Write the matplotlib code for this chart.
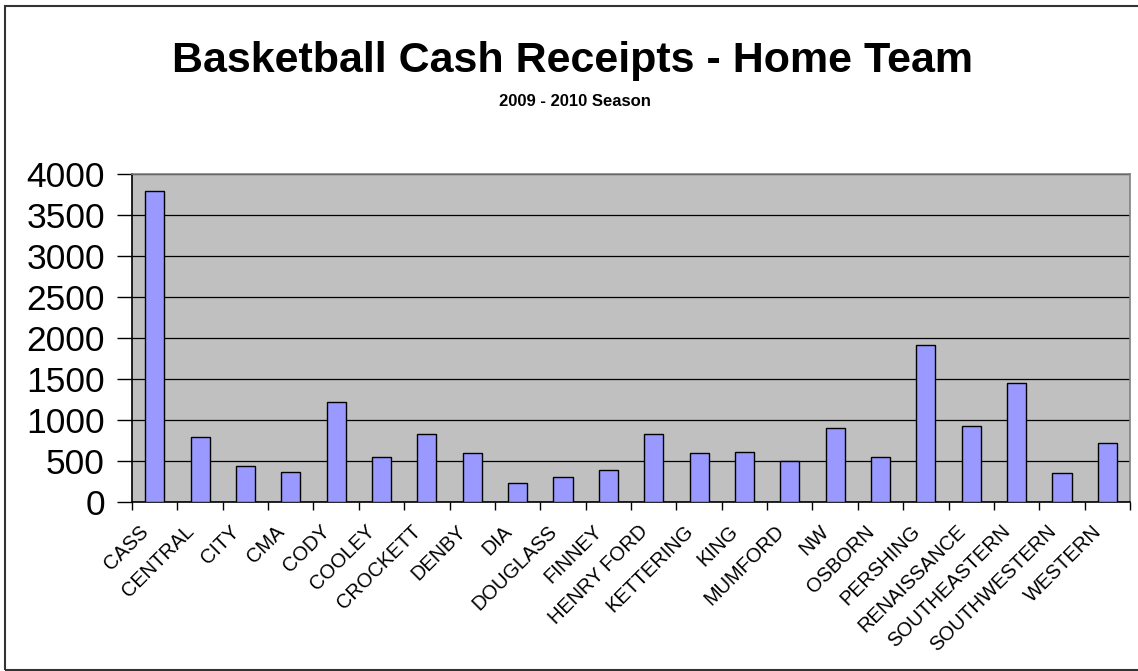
import numpy as np
import matplotlib.pyplot as plt
from matplotlib.patches import Rectangle
from matplotlib.transforms import ScaledTranslation

plt.rcParams['font.family'] = ['Liberation Sans', 'DejaVu Sans']

schools = ["CASS", "CENTRAL", "CITY", "CMA", "CODY", "COOLEY", "CROCKETT",
           "DENBY", "DIA", "DOUGLASS", "FINNEY", "HENRY FORD", "KETTERING",
           "KING", "MUMFORD", "NW", "OSBORN", "PERSHING", "RENAISSANCE",
           "SOUTHEASTERN", "SOUTHWESTERN", "WESTERN"]
receipts = [3800, 790, 436, 371, 1218, 554, 831,
            599, 228, 310, 387, 831, 599,
            615, 505, 908, 554, 1914, 925,
            1450, 354, 725]
y_ticks = [0, 500, 1000, 1500, 2000, 2500, 3000, 3500, 4000]


def plot_bars(output_file="out.png"):
    fig = plt.figure(figsize=(11.38, 6.71), dpi=100)
    ax = fig.add_axes([0.116, 0.2519, 0.877, 0.4883])

    x = np.arange(len(schools))
    ax.bar(x, receipts, width=0.42, color="#9999FF", edgecolor="black",
           linewidth=1.0, zorder=3)

    ax.set_facecolor("#C0C0C0")
    ax.set_xlim(-0.5, len(schools) - 0.5)
    ax.set_ylim(0, 4000)
    ax.set_yticks(y_ticks)
    ax.tick_params(axis="y", labelsize=25.5, length=11, width=1, pad=8.5,
                   direction="out")
    ax.yaxis.grid(True, color="black", linewidth=0.9, zorder=1)
    ax.set_axisbelow(True)

    # labels at category centres, tick marks at the boundaries
    ax.set_xticks(x)
    ax.set_xticklabels(schools, rotation=45, ha="right", va="center",
                       rotation_mode="anchor", fontsize=14.4)
    ax.tick_params(axis="x", which="major", length=0, pad=19)
    shift = ScaledTranslation(-0.09, 0, fig.dpi_scale_trans)
    for lbl in ax.get_xticklabels():
        lbl.set_transform(lbl.get_transform() + shift)
    ax.set_xticks(np.arange(len(schools) + 1) - 0.5, minor=True)
    ax.tick_params(axis="x", which="minor", length=6, width=1,
                   direction="out")

    ax.spines["left"].set_color("black")
    ax.spines["bottom"].set_color("black")
    ax.spines["top"].set_color("#808080")
    ax.spines["right"].set_color("#808080")
    for s in ax.spines.values():
        s.set_linewidth(1.2)

    fig.text(0.5035, 0.909, "Basketball Cash Receipts - Home Team",
             ha="center", va="center", fontsize=31, fontweight="bold")
    fig.text(0.5055, 0.849, "2009 - 2010 Season", ha="center", va="center",
             fontsize=12, fontweight="bold")

    # chart frame
    fig.patches.append(Rectangle((5 / 1138, 1.5 / 671), 1.1, 664 / 671,
                                 transform=fig.transFigure, fill=False,
                                 edgecolor="#333333", linewidth=1.5))

    fig.savefig(output_file, dpi=100)


if __name__ == "__main__":
    plot_bars()
